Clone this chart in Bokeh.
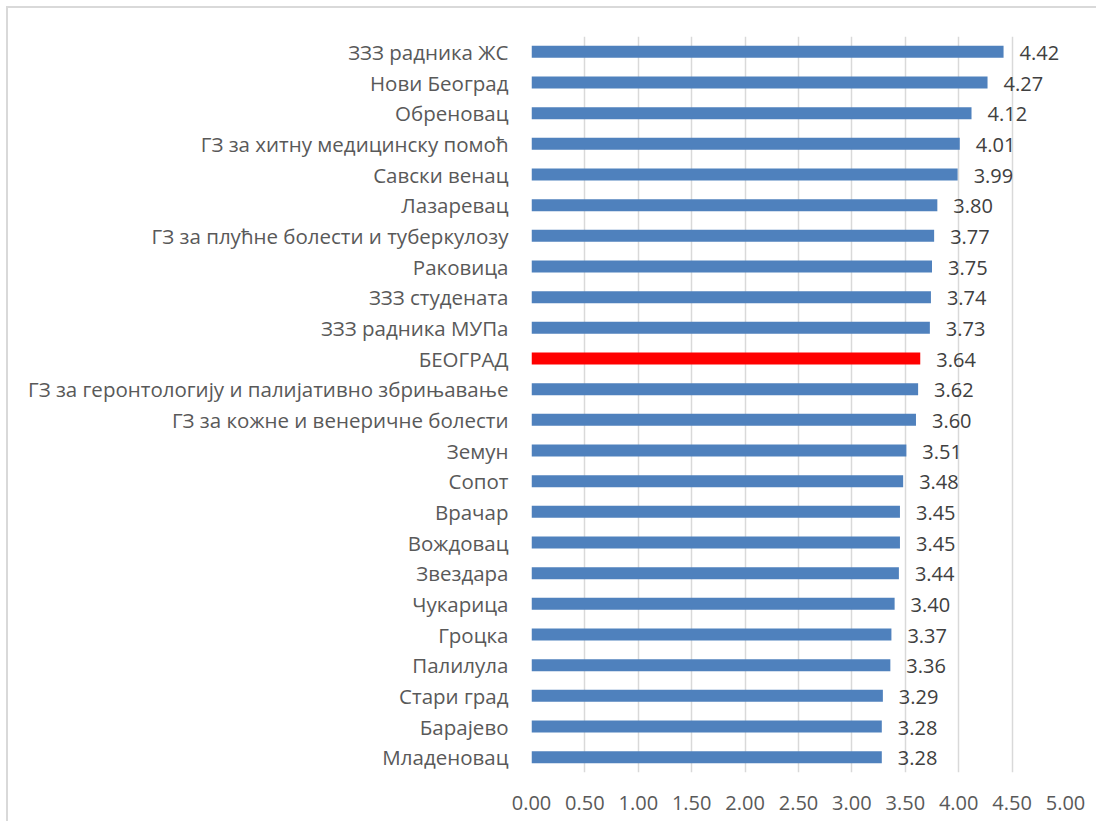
from bokeh.plotting import figure
from bokeh.models import ColumnDataSource, Range1d, FactorRange, SingleIntervalTicker, CustomJSTickFormatter
from bokeh.core.properties import value
from bokeh.embed import file_html
from bokeh.resources import INLINE

categories = ["ЗЗЗ радника ЖС", "Нови Београд", "Обреновац", "ГЗ за хитну медицинску помоћ",
              "Савски венац", "Лазаревац", "ГЗ за плућне болести и туберкулозу", "Раковица",
              "ЗЗЗ студената", "ЗЗЗ радника МУПа", "БЕОГРАД",
              "ГЗ за геронтологију и палијативно збрињавање", "ГЗ за кожне и венеричне болести",
              "Земун", "Сопот", "Врачар", "Вождовац", "Звездара", "Чукарица", "Гроцка",
              "Палилула", "Стари град", "Барајево", "Младеновац"]
scores = [4.42, 4.27, 4.12, 4.01, 3.99, 3.80, 3.77, 3.75, 3.74, 3.73, 3.64, 3.62, 3.60,
          3.51, 3.48, 3.45, 3.45, 3.44, 3.40, 3.37, 3.36, 3.29, 3.28, 3.28]
highlight = "БЕОГРАД"

colors = ["#FF0000" if c == highlight else "#4F81BD" for c in categories]
labels = ["%.2f" % v for v in scores]
src = ColumnDataSource(dict(cat=categories, val=scores, color=colors, label=labels))

FONT = "Open Sans"

p = figure(frame_width=534, frame_height=736, output_backend="svg", toolbar_location=None,
           y_range=FactorRange(*reversed(categories), range_padding=0),
           x_range=Range1d(0, 5),
           min_border_left=523, min_border_right=31, min_border_top=28, min_border_bottom=49)
p.styles = {"border-top": "2px solid #d9d9d9", "border-left": "2px solid #d9d9d9",
            "margin-left": "6px", "margin-top": "6px"}
p.outline_line_color = None
p.background_fill_color = "white"
p.border_fill_color = "white"

p.hbar(y="cat", right="val", left=0, height=0.39, fill_color="color", line_color=None, source=src)
p.text(x="val", y="cat", text="label", source=src, x_offset=16, y_offset=1,
       text_align="left", text_baseline="middle", text_font=value(FONT),
       text_font_size="20px", text_color="#404040")

p.xaxis.ticker = SingleIntervalTicker(interval=0.5)
p.xaxis.formatter = CustomJSTickFormatter(code="return tick.toFixed(2);")
p.xaxis.axis_line_color = None
p.xaxis.major_tick_line_color = None
p.xaxis.minor_tick_line_color = None
p.xaxis.major_label_standoff = 17
p.xaxis.major_label_text_font = FONT
p.xaxis.major_label_text_font_size = "20px"
p.xaxis.major_label_text_color = "#595959"

p.yaxis.axis_line_color = None
p.yaxis.major_tick_line_color = None
p.yaxis.minor_tick_line_color = None
p.yaxis.major_label_standoff = 17
p.yaxis.major_label_text_font = FONT
p.yaxis.major_label_text_font_size = "20.5px"
p.yaxis.major_label_text_color = "#595959"

p.xgrid.grid_line_color = "#d9d9d9"
p.xgrid.grid_line_width = 1.5
p.ygrid.grid_line_color = None

open("out.html", "w").write(file_html(p, INLINE))
